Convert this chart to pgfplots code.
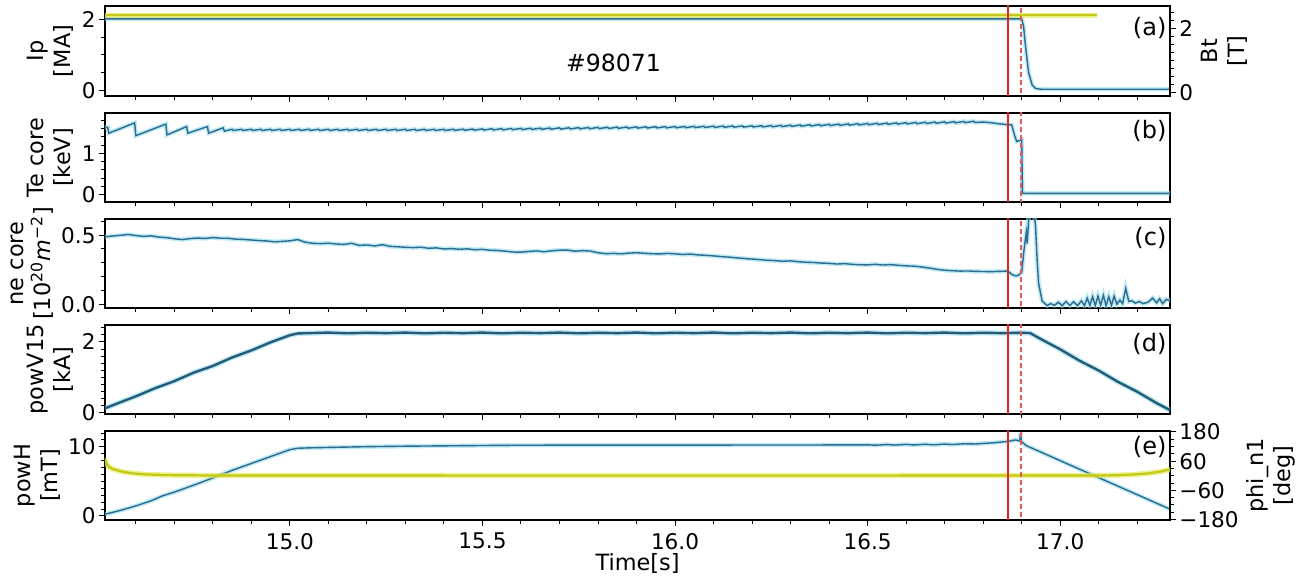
\documentclass[border=0pt]{standalone}
\usepackage{fontspec}
\setmainfont{DejaVu Sans}
\usepackage{pgfplots}
\pgfplotsset{compat=1.18}
\definecolor{lnblue}{HTML}{2F6A8C}
\definecolor{halo}{HTML}{8FDCF0}
\definecolor{lnyel}{HTML}{C2C81C}
\definecolor{haloyel}{HTML}{E4EC55}
\definecolor{vred}{HTML}{E3231C}
\definecolor{vpink}{HTML}{E65A5A}
\tikzset{plabel/.style={anchor=north east, inner sep=0pt, font=\fontsize{12}{14}\selectfont}}
\pgfplotsset{
 panel/.style={scale only axis, width=532.5pt, height=44.5pt,
   xmin=14.52, xmax=17.285, anchor=north west,
   tick align=outside, major tick length=3pt, minor tick length=2pt,
   tick style={black, line width=0.5pt},
   axis line style={line width=0.6pt},
   xtick={15,15.5,16,16.5,17},
   minor xtick={14.6,14.7,14.8,14.9,15.1,15.2,15.3,15.4,15.6,15.7,15.8,15.9,16.1,16.2,16.3,16.4,16.6,16.7,16.8,16.9,17.1,17.2},
   xticklabels={},
   tick pos=left,
   tick label style={font=\fontsize{10.8}{12}\selectfont},
   yticklabel style={inner sep=1.5pt},
   /pgf/number format/assume math mode=true,
   ylabel style={anchor=south, inner sep=0pt, outer sep=2.5pt, align=center, font=\fontsize{11.2}{13.5}\selectfont},
 },
 twin/.style={scale only axis, width=532.5pt, height=44.5pt,
   xmin=14.52, xmax=17.285, anchor=north west,
   axis x line=none, axis y line*=right, xtick=\empty,
   tick align=outside, major tick length=3pt, minor tick length=2pt,
   tick style={black, line width=0.5pt},
   axis line style={line width=0.6pt},
   tick label style={font=\fontsize{10.8}{12}\selectfont},
   yticklabel style={inner sep=1.5pt},
   /pgf/number format/assume math mode=true,
   ylabel style={anchor=north, inner sep=0pt, outer sep=2.5pt, align=center, font=\fontsize{11.2}{13.5}\selectfont},
 },
 bl/.style={color=lnblue, line width=0.7pt, preaction={draw=halo, draw opacity=0.6, line width=2.2pt}},
 blthick/.style={color=lnblue!85!black, line width=1.2pt, preaction={draw=halo, draw opacity=0.6, line width=2.6pt}},
 yl/.style={color=lnyel, line width=1.1pt, preaction={draw=haloyel, draw opacity=0.7, line width=2.6pt}},
 vsolid/.style={color=vred, line width=1.1pt},
 vdash/.style={color=vpink, line width=0.9pt, dash pattern=on 2.5pt off 1.5pt},
}
\begin{document}
\begin{tikzpicture}
\useasboundingbox (-52.5pt,-288pt) rectangle (599pt,3pt);
% ---------------- (a)
\begin{axis}[panel, at={(0,0)}, height=45pt, ymin=-0.15, ymax=2.37, ytick={0,2}, minor ytick={0.5,1,1.5},
  ylabel={Ip\\{[MA]}}]
\addplot[bl] coordinates {(14.52,2.01) (16.900,2.01) (16.905,1.79) (16.909,1.33) (16.914,0.86) (16.918,0.50) (16.927,0.16) (16.936,0.06) (16.950,0.04) (17.285,0.04)};
\node[font=\fontsize{11.8}{13}\selectfont] at (axis cs:15.84,0.78) {\#98071};
\end{axis}
\begin{axis}[twin, at={(0,0)}, height=45pt, ymin=-0.1, ymax=2.69, ytick={0,2}, minor ytick={0.25,0.5,0.75,1,1.25,1.5,1.75,2.25,2.5},
  ylabel={Bt\\{[T]}}]
\addplot[yl] coordinates {(14.52,2.40) (17.095,2.40)};
\addplot[vsolid] coordinates {(16.864,-1) (16.864,3)};
\addplot[vdash] coordinates {(16.899,-1) (16.899,3)};
\node[plabel] at (rel axis cs:0.997,0.88) {(a)};
\end{axis}
% ---------------- (b)
\begin{axis}[panel, at={(0,-53.5pt)}, ymin=-0.18, ymax=1.98, ytick={0,1}, minor ytick={0.2,0.4,0.6,0.8,1.2,1.4,1.6,1.8},
  ylabel={Te core\\{[keV]}}]
\addplot[bl] coordinates {
(14.520,1.63) (14.527,1.63) (14.530,1.49) (14.597,1.74) (14.600,1.43) (14.678,1.71) (14.681,1.45) (14.732,1.65) (14.735,1.49) (14.786,1.65) (14.789,1.49) (14.827,1.62) (14.830,1.54)
(14.850,1.585) (14.853,1.555) (14.875,1.585) (14.878,1.555) (14.900,1.585) (14.903,1.555) (14.925,1.585) (14.928,1.555)
(14.950,1.585) (14.953,1.555) (14.975,1.585) (14.978,1.555) (15.000,1.585) (15.003,1.555) (15.025,1.585) (15.028,1.555)
(15.050,1.585) (15.053,1.555) (15.075,1.585) (15.078,1.555) (15.100,1.585) (15.103,1.555) (15.125,1.585) (15.128,1.555)
(15.150,1.585) (15.153,1.555) (15.175,1.585) (15.178,1.555) (15.200,1.585) (15.203,1.555) (15.225,1.585) (15.228,1.555)
(15.250,1.585) (15.253,1.555) (15.275,1.585) (15.278,1.555) (15.300,1.585) (15.303,1.555) (15.325,1.585) (15.328,1.555)
(15.350,1.585) (15.353,1.555) (15.375,1.585) (15.378,1.555) (15.400,1.585) (15.403,1.555)
(15.425,1.586) (15.428,1.556) (15.450,1.589) (15.453,1.559) (15.475,1.592) (15.478,1.562) (15.500,1.595) (15.503,1.565)
(15.525,1.598) (15.528,1.568) (15.550,1.601) (15.553,1.571) (15.575,1.604) (15.578,1.574) (15.600,1.607) (15.603,1.577)
(15.625,1.610) (15.628,1.580) (15.650,1.613) (15.653,1.583) (15.675,1.616) (15.678,1.586) (15.700,1.619) (15.703,1.589)
(15.725,1.622) (15.728,1.592) (15.750,1.625) (15.753,1.595) (15.775,1.628) (15.778,1.598) (15.800,1.631) (15.803,1.601)
(15.825,1.634) (15.828,1.604) (15.850,1.637) (15.853,1.607) (15.875,1.640) (15.878,1.610) (15.900,1.643) (15.903,1.613)
(15.925,1.645) (15.928,1.615) (15.950,1.647) (15.953,1.617) (15.975,1.649) (15.978,1.619) (16.000,1.651) (16.003,1.621)
(16.025,1.653) (16.028,1.623) (16.050,1.656) (16.053,1.626) (16.075,1.658) (16.078,1.628) (16.100,1.660) (16.103,1.630)
(16.125,1.663) (16.128,1.633) (16.150,1.665) (16.153,1.635) (16.175,1.667) (16.178,1.637) (16.200,1.670) (16.203,1.640)
(16.225,1.672) (16.228,1.642) (16.250,1.675) (16.253,1.645)
(16.275,1.680) (16.278,1.650) (16.300,1.685) (16.303,1.655) (16.325,1.690) (16.328,1.660) (16.350,1.695) (16.353,1.665)
(16.375,1.700) (16.378,1.670) (16.400,1.705) (16.403,1.675) (16.425,1.710) (16.428,1.680) (16.450,1.715) (16.453,1.685)
(16.475,1.720) (16.478,1.690) (16.500,1.725) (16.503,1.695)
(16.525,1.730) (16.528,1.700) (16.550,1.735) (16.553,1.705) (16.575,1.740) (16.578,1.710) (16.600,1.745) (16.603,1.715)
(16.625,1.750) (16.628,1.720) (16.650,1.755) (16.653,1.725) (16.675,1.760) (16.678,1.730) (16.700,1.765) (16.703,1.735)
(16.725,1.770) (16.728,1.740) (16.750,1.775) (16.753,1.745) (16.775,1.780) (16.778,1.750)
(16.800,1.760) (16.820,1.745) (16.840,1.720) (16.860,1.700) (16.874,1.690) (16.882,1.420) (16.887,1.290) (16.895,1.310) (16.900,1.330) (16.902,0.030) (17.285,0.030)};
\addplot[vsolid] coordinates {(16.864,-1) (16.864,3)};
\addplot[vdash] coordinates {(16.899,-1) (16.899,3)};
\node[plabel] at (rel axis cs:0.997,0.92) {(b)};
\end{axis}
% ---------------- (c)
\begin{axis}[panel, at={(0,-106.5pt)}, ymin=-0.027, ymax=0.617, ytick={0,0.5}, yticklabels={0.0,0.5}, minor ytick={0.1,0.2,0.3,0.4,0.6},
  ylabel={ne core\\{[10\textsuperscript{20}\textit{m}\textsuperscript{−2}]}}]
\addplot[bl] coordinates {
(14.52,0.488) (14.54,0.494) (14.56,0.499) (14.58,0.505) (14.60,0.497) (14.62,0.491) (14.64,0.495) (14.66,0.486) (14.68,0.482) (14.70,0.474)
(14.72,0.468) (14.74,0.475) (14.76,0.479) (14.78,0.476) (14.80,0.483) (14.82,0.478) (14.84,0.477) (14.86,0.471) (14.88,0.469) (14.90,0.465)
(14.92,0.461) (14.94,0.458) (14.96,0.452) (14.98,0.455) (15.00,0.459) (15.02,0.468) (15.04,0.449) (15.06,0.441) (15.08,0.439) (15.10,0.442)
(15.12,0.436) (15.14,0.433) (15.16,0.441) (15.18,0.426) (15.20,0.429) (15.22,0.422) (15.24,0.431) (15.26,0.419) (15.28,0.416) (15.30,0.412)
(15.32,0.410) (15.34,0.413) (15.36,0.405) (15.38,0.408) (15.40,0.400) (15.42,0.403) (15.44,0.398) (15.46,0.401) (15.48,0.395) (15.50,0.397)
(15.52,0.391) (15.54,0.389) (15.56,0.384) (15.58,0.378) (15.60,0.377) (15.62,0.382) (15.64,0.386) (15.66,0.380) (15.68,0.387) (15.70,0.391)
(15.72,0.392) (15.74,0.384) (15.76,0.388) (15.78,0.385) (15.80,0.373) (15.82,0.366) (15.84,0.368) (15.86,0.365) (15.88,0.370) (15.90,0.373)
(15.92,0.369) (15.94,0.366) (15.96,0.364) (15.98,0.368) (16.00,0.365) (16.02,0.360) (16.04,0.363) (16.06,0.357) (16.08,0.354) (16.10,0.350)
(16.12,0.345) (16.14,0.341) (16.16,0.336) (16.18,0.331) (16.20,0.327) (16.22,0.323) (16.24,0.318) (16.26,0.316) (16.28,0.311) (16.30,0.314)
(16.32,0.308) (16.34,0.304) (16.36,0.302) (16.38,0.298) (16.40,0.296) (16.42,0.291) (16.44,0.294) (16.46,0.289) (16.48,0.286) (16.50,0.285)
(16.52,0.289) (16.54,0.284) (16.56,0.287) (16.58,0.282) (16.60,0.278) (16.62,0.276) (16.64,0.270) (16.66,0.262) (16.68,0.253) (16.70,0.246)
(16.72,0.243) (16.74,0.240) (16.76,0.241) (16.78,0.238) (16.80,0.237) (16.82,0.236) (16.84,0.238) (16.864,0.240) (16.875,0.215) (16.882,0.207)
(16.890,0.207) (16.900,0.230) (16.905,0.370) (16.909,0.460) (16.912,0.520) (16.914,0.440) (16.916,0.520) (16.920,0.700) (16.931,0.700) (16.936,0.560)
(16.940,0.320) (16.944,0.150) (16.953,0.024) (16.966,-0.010) (16.975,0.005) (16.985,-0.008) (16.995,0.015) (17.005,-0.010) (17.015,0.020) (17.025,-0.008)
(17.035,0.018) (17.045,-0.010) (17.055,0.025) (17.063,-0.010) (17.070,0.045) (17.077,-0.008) (17.084,0.055) (17.091,-0.010) (17.098,0.060) (17.105,-0.008)
(17.112,0.065) (17.119,-0.010) (17.126,0.055) (17.133,-0.008) (17.140,0.060) (17.147,0.000) (17.155,0.030) (17.162,0.005) (17.170,0.115) (17.178,0.020)
(17.186,0.025) (17.195,0.008) (17.205,0.020) (17.215,0.005) (17.228,0.015) (17.240,0.045) (17.250,0.010) (17.258,0.040) (17.266,0.005) (17.275,0.035) (17.285,0.025)};
\addplot[vsolid] coordinates {(16.864,-1) (16.864,3)};
\addplot[vdash] coordinates {(16.899,-1) (16.899,3)};
\node[plabel] at (rel axis cs:0.997,0.91) {(c)};
\end{axis}
% ---------------- (d)
\begin{axis}[panel, at={(0,-159.5pt)}, ymin=-0.04, ymax=2.48, ytick={0,2}, minor ytick={0.2,0.4,0.6,0.8,1,1.2,1.4,1.6,1.8,2.2,2.4},
  ylabel={powV15\\{[kA]}}]
\addplot[blthick] coordinates {
(14.52,0.12) (14.55,0.25) (14.60,0.46) (14.65,0.69) (14.70,0.89) (14.75,1.13) (14.80,1.32) (14.85,1.56) (14.90,1.76) (14.95,1.99) (15.00,2.19) (15.02,2.24)
(15.05,2.25) (15.10,2.265) (15.15,2.245) (15.20,2.26) (15.25,2.25) (15.30,2.265) (15.35,2.245) (15.40,2.26) (15.45,2.25) (15.50,2.265)
(15.55,2.245) (15.60,2.26) (15.65,2.25) (15.70,2.265) (15.75,2.245) (15.80,2.26) (15.85,2.25) (15.90,2.265) (15.95,2.245) (16.00,2.26)
(16.05,2.25) (16.10,2.265) (16.15,2.245) (16.20,2.26) (16.25,2.25) (16.30,2.265) (16.35,2.245) (16.40,2.26) (16.45,2.25) (16.50,2.265)
(16.55,2.245) (16.60,2.26) (16.65,2.25) (16.70,2.265) (16.75,2.245) (16.80,2.26) (16.85,2.25) (16.90,2.26) (16.922,2.25)
(16.95,2.08) (17.00,1.79) (17.05,1.47) (17.10,1.19) (17.15,0.87) (17.20,0.59) (17.25,0.27) (17.285,0.07)};
\addplot[vsolid] coordinates {(16.864,-1) (16.864,3)};
\addplot[vdash] coordinates {(16.899,-1) (16.899,3)};
\node[plabel] at (rel axis cs:0.997,0.91) {(d)};
\end{axis}
% ---------------- (e)
\begin{axis}[panel, at={(0,-212.5pt)}, ymin=-0.59, ymax=12.3, ytick={0,10}, minor ytick={1,2,3,4,5,6,7,8,9,11,12},
  xticklabels={15.0,15.5,16.0,16.5,17.0},
  xlabel={Time[s]}, xlabel style={at={(axis description cs:0.5,0)}, anchor=center, yshift=-21.5pt, font=\fontsize{11.2}{13}\selectfont},
  ylabel={powH\\{[mT]}}]
\addplot[bl] coordinates {
(14.52,0.25) (14.56,0.80) (14.60,1.45) (14.64,2.20) (14.669,2.90) (14.70,3.45) (14.75,4.45) (14.80,5.50) (14.822,6.00) (14.85,6.60) (14.90,7.60)
(14.95,8.60) (15.00,9.60) (15.02,9.80) (15.05,9.86) (15.10,9.92) (15.20,10.03) (15.30,10.10) (15.40,10.15) (15.50,10.20) (15.60,10.24) (15.80,10.25)
(16.00,10.25) (16.20,10.27) (16.40,10.28) (16.50,10.30) (16.52,10.24) (16.55,10.34) (16.57,10.26) (16.60,10.36) (16.62,10.28) (16.65,10.38)
(16.67,10.30) (16.70,10.40) (16.72,10.34) (16.75,10.45) (16.78,10.42) (16.80,10.50) (16.83,10.60) (16.864,10.80) (16.884,11.00) (16.895,10.85)
(16.897,12.00) (16.899,10.80) (16.911,10.20) (17.285,0.98)};
\end{axis}
\begin{axis}[twin, at={(0,-212.5pt)}, ymin=-182, ymax=184, ytick={-180,-60,60,180}, yticklabels={−180,−60,60,180},
  minor ytick={-150,-120,-90,-30,0,30,90,120,150},
  ylabel={phi\_n1\\{[deg]}}]
\addplot[yl] coordinates {(14.520,72) (14.522,60) (14.525,47) (14.530,37) (14.540,28) (14.552,22) (14.570,15) (14.597,9) (14.63,5) (14.69,2.5) (14.80,1) (15.50,0.5) (16.50,0.5) (17.10,1) (17.146,2) (17.20,6) (17.23,10) (17.26,17) (17.285,26)};
\addplot[vsolid] coordinates {(16.864,-300) (16.864,300)};
\addplot[vdash] coordinates {(16.899,-300) (16.899,300)};
\node[plabel] at (rel axis cs:0.997,0.94) {(e)};
\end{axis}
\end{tikzpicture}
\end{document}
